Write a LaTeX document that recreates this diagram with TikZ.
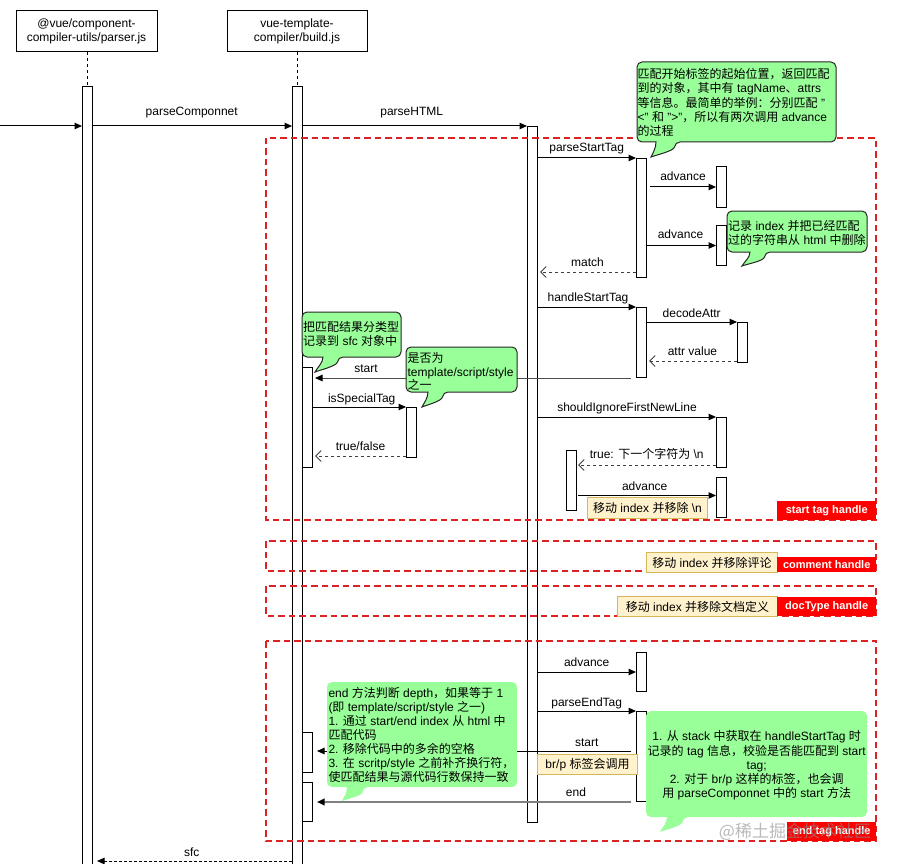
\documentclass[tikz,border=0pt]{standalone}
\usepackage{fontspec}
\setmainfont{Liberation Sans}
\newfontfamily\zhfont{Noto Sans CJK SC}
\newcommand\zh[1]{{\zhfont #1}}
\usetikzlibrary{arrows.meta}
\definecolor{redbox}{HTML}{DD2222}
\definecolor{callg}{HTML}{99FF99}
\definecolor{notefill}{HTML}{FFF2CC}
\definecolor{noteline}{HTML}{D6B656}
\definecolor{tagred}{HTML}{FF0000}
\newcommand\bubble[9]{%
  \draw[#1] (#2,#3+10) [rounded corners=5pt] -- (#2,#3) -- (#4,#3) -- (#4,#5) -- (#7,#5) [sharp corners]
    .. controls +(-1,9) and +(5,-2) .. (#8,#9)
    .. controls +(2,-4) and +(0,6) .. (#6,#5) -- (#6-5,#5) [rounded corners=5pt] -- (#2,#5) -- cycle;}
\begin{document}
\begin{tikzpicture}[x=1pt,y=-1pt,
  fs/.style={font=\fontsize{12}{14}\selectfont},
  head/.style={draw, fill=white, line width=1pt, minimum width=141pt, minimum height=41pt, inner sep=0, align=center, font=\fontsize{12}{14}\selectfont},
  actbar/.style={draw, fill=white, line width=1pt, minimum width=10pt, inner sep=0, anchor=north west},
  life/.style={line width=0.8pt, dash pattern=on 3pt off 3pt},
  msg/.style={line width=1pt, -{Triangle[length=7.5pt,width=6.5pt]}},
  msgdark/.style={msg, draw=black!70, -{Triangle[length=7.5pt,width=6.5pt,color=black]}},
  msggray/.style={line width=1.8pt, draw=black!50, -{Triangle[length=7.5pt,width=6.5pt,color=black]}},
  ret/.style={line width=1pt, draw=black!75, dash pattern=on 3pt off 3pt, -{Straight Barb[length=5.5pt,width=11pt]}},
  retfill/.style={line width=1pt, dash pattern=on 3pt off 2pt, -{Triangle[length=7.5pt,width=6.5pt]}},
  lbl/.style={anchor=base, inner sep=0, font=\fontsize{12}{14}\selectfont},
  hframe/.style={draw=redbox, line width=2pt, dash pattern=on 6.5pt off 4pt},
  tagl/.style={fill=tagred, text=white, font=\fontsize{11}{13}\selectfont\bfseries, inner sep=0, anchor=north west},
  note/.style={draw=noteline, fill=notefill, line width=1pt, inner sep=0, font=\fontsize{12}{14}\selectfont, anchor=north west},
  callb/.style={draw=black!85, fill=callg, line width=1pt},
  calln/.style={fill=callg, draw=none},
  ctext/.style={inner sep=0, font=\fontsize{12}{14.2}\selectfont, align=left, anchor=north west},
]
\useasboundingbox (0,0) rectangle (900,864);
\fill[white] (0,0) rectangle (900,864);

% lifeline heads
\node[head] (hA) at (86.5,31.5) {@vue/component-\\compiler-utils/parser.js};
\node[head, minimum width=140pt] (hB) at (297,31.5) {vue-template-\\compiler/build.js};

% activation bars
\node[actbar, minimum height=790pt] (A) at (82,86) {};
\node[actbar, minimum height=790pt] (B) at (292,86) {};
\node[actbar, minimum height=696pt] (C) at (527,126) {};
\node[actbar, minimum height=119pt] (D) at (636,158) {};
\node[actbar, minimum height=41pt] (E1) at (716,166) {};
\node[actbar, minimum height=40pt] (E2) at (716,225) {};
\node[actbar, minimum height=70pt] (F) at (636,307) {};
\node[actbar, minimum height=40pt] (G) at (737,322) {};
\node[actbar, minimum height=100pt] (H) at (302,367) {};
\node[actbar, minimum height=50pt] (I) at (406,407) {};
\node[actbar, minimum height=50pt] (J) at (716,417) {};
\node[actbar, minimum height=60pt] (K) at (566,450) {};
\node[actbar, minimum height=40pt] (L) at (716,477) {};
\node[actbar, minimum height=39pt] (M) at (636,652) {};
\node[actbar, minimum height=90pt] (N) at (636,711) {};
\node[actbar, minimum height=40pt] (O1) at (302,732) {};
\node[actbar, minimum height=39pt] (O2) at (302,782) {};

\draw[life] (A.north |- hA.south) -- (A.north);
\draw[life] (B.north |- hB.south) -- (B.north);

% messages
\coordinate (inp) at (0,126);
\draw[msg] (inp) -- (A.west |- inp);
\draw[msg] (A.east |- inp) -- (B.west |- inp) node[lbl] at (191.7,116) {parseComponnet};
\draw[msg] (B.east |- inp) -- (C.north west) node[lbl] at (411.7,116) {parseHTML};
\draw[msg] (C.east |- D.north) -- (D.north west) node[lbl] at (586.7,152) {parseStartTag};
\draw[msg] ([xshift=3pt]D.east |- E1.west) -- (E1.west) node[lbl] at (683,181) {advance};
\draw[msg] (D.east |- E2.west) -- (E2.west) node[lbl] at (680.5,238) {advance};
\coordinate (m1) at ([yshift=6pt]D.south west);
\draw[ret] (m1) -- ([xshift=2pt]C.east |- m1) node[lbl] at (587.5,266) {match};
\draw[msg] (C.east |- F.north) -- (F.north west) node[lbl] at (588,301) {handleStartTag};
\draw[msg] (F.east |- G.north) -- (G.north west) node[lbl] at (691.7,317) {decodeAttr};
\coordinate (av) at ([yshift=2pt]G.south west);
\draw[ret] (av) -- ([xshift=2pt]F.east |- av) node[lbl] at (692.5,355) {attr value};
\coordinate (s1) at ([xshift=-5pt]F.south west);
\draw[msgdark] (s1) -- ([xshift=2pt]H.east |- s1) node[lbl] at (366,372) {start};
\draw[msg] (H.east |- I.north) -- (I.north west) node[lbl] at (361.7,402) {isSpecialTag};
\coordinate (tf) at ([yshift=2pt]I.south west);
\draw[ret] (tf) -- ([xshift=2pt]H.east |- tf) node[lbl] at (360.5,450) {true/false};
\draw[msg] (C.east |- J.north) -- (J.north west) node[lbl] at (627,411) {shouldIgnoreFirstNewLine};
\coordinate (tn) at ([yshift=3pt]J.south west);
\draw[ret] (tn) -- ([xshift=1pt]K.east |- tn) node[lbl] at (646.7,458) {true: \zh{下一个字符为} \textbackslash n};
\coordinate (kl) at ([yshift=2pt]L.west);
\draw[msg] ([xshift=1pt]K.east |- kl) -- (L.west |- kl) node[lbl] at (644.7,490) {advance};
\draw[msg] (C.east |- M.west) -- (M.west) node[lbl] at (586.7,666) {advance};
\draw[msg] (C.east |- N.north) -- (N.north west) node[lbl] at (586.7,706) {parseEndTag};
\coordinate (s2) at ([xshift=-5pt,yshift=-40pt]N.north west);
\draw[msg] (s2) -- ([xshift=4pt]O1.east |- s2) node[lbl] at (586.7,746) {start};
\coordinate (e2) at ([xshift=-5pt]N.south west);
\draw[msggray] (e2) -- ([xshift=4pt]O2.east |- e2) node[lbl] at (576,796) {end};
\coordinate (sfcy) at (292,861);
\draw[retfill] (sfcy) -- ([xshift=4pt]A.east |- sfcy) node[lbl] at (191.7,856) {sfc};

% fragment frames
\draw[hframe] (266,138) rectangle (876,520);
\draw[hframe] (266,541) rectangle (876,571);
\draw[hframe] (266,586) rectangle (876,616);
\draw[hframe] (266,641) rectangle (876,841);

% notes
\node[note, minimum width=120pt, minimum height=21pt] (n1) at (587,497) {\zh{移动} index \zh{并移除} \textbackslash n};
\node[note, minimum width=131pt, minimum height=20pt] (n2) at (646,552) {\zh{移动} index \zh{并移除评论}};
\node[note, minimum width=160pt, minimum height=20pt] (n3) at (617,596) {\zh{移动} index \zh{并移除文档定义}};
\node[note, minimum width=100pt, minimum height=20pt] (n4) at (537,754) {br/p \zh{标签会调用}};

% frame tags
\node[tagl, minimum width=99pt, minimum height=19pt] (t1) at (777,501) {start tag handle};
\node[tagl, minimum width=99pt, minimum height=15pt] (t2) at (777,556.5) {comment handle};
\node[tagl, minimum width=99pt, minimum height=19pt] (t3) at (777,597) {docType handle};
\node[tagl, minimum width=89pt, minimum height=19pt] (t4) at (787,822) {end tag handle};

% callouts
\bubble{callb}{637}{62}{836}{142}{656}{675}{651}{157}
\node[ctext, font=\fontsize{12}{14.4}\selectfont] (cT) at (637.5,68) {\zh{匹配开始标签的起始位置，返回匹配}\\
\zh{到的对象，其中有} tagName\zh{、}attrs\\
\zh{等信息。最简单的举例：分别匹配} "\\
<" \zh{和} ">"\zh{，所以有两次调用} advance\\
\zh{的过程}};

\bubble{callb}{727}{211}{867}{252}{750}{765}{742}{266}
\node[ctext] (cR) at (728,220) {\zh{记录} index \zh{并把已经匹配}\\
\zh{过的字符串从} html \zh{中删除}};

\bubble{callb}{302}{312}{401}{357}{323}{338}{315}{372}
\node[ctext] (cS) at (303,321.5) {\zh{把匹配结果分类型}\\
\zh{记录到} sfc \zh{对象中}};

\bubble{callb}{406}{347}{517}{392}{428}{443}{422}{407}
\node[ctext, font=\fontsize{12}{13.5}\selectfont] (cQ) at (407.3,352.5) {\zh{是否为}\\
template/script/style\\
\zh{之一}};

\bubble{calln}{327}{682}{517}{787}{347}{363}{342}{801}
\node[ctext, font=\fontsize{12}{14}\selectfont] (cE) at (328.3,687) {end \zh{方法判断} depth\zh{，如果等于} 1\\
(\zh{即} template/script/style \zh{之一})\\
1. \zh{通过} start/end index \zh{从} html \zh{中}\\
\zh{匹配代码}\\
2. \zh{移除代码中的多余的空格}\\
3. \zh{在} scritp/style \zh{之前补齐换行符，}\\
\zh{使匹配结果与源代码行数保持一致}};

\bubble{calln}{646}{711}{867}{817}{667}{683}{660}{832}
\node[ctext, align=center, anchor=north] (cB) at (756.7,730.7) {1. \zh{从} stack \zh{中获取在} handleStartTag \zh{时}\\
\zh{记录的} tag \zh{信息，校验是否能匹配到} start\\
tag;\\
2. \zh{对于} br/p \zh{这样的标签，也会调}\\
\zh{用} parseComponnet \zh{中的} start \zh{方法}};

% watermark
\node[inner sep=0, text=black!45, opacity=0.6, font=\zhfont\fontsize{17}{20}\selectfont] (wm) at (795,831.5) {@稀土掘金技术社区};
\end{tikzpicture}
\end{document}
